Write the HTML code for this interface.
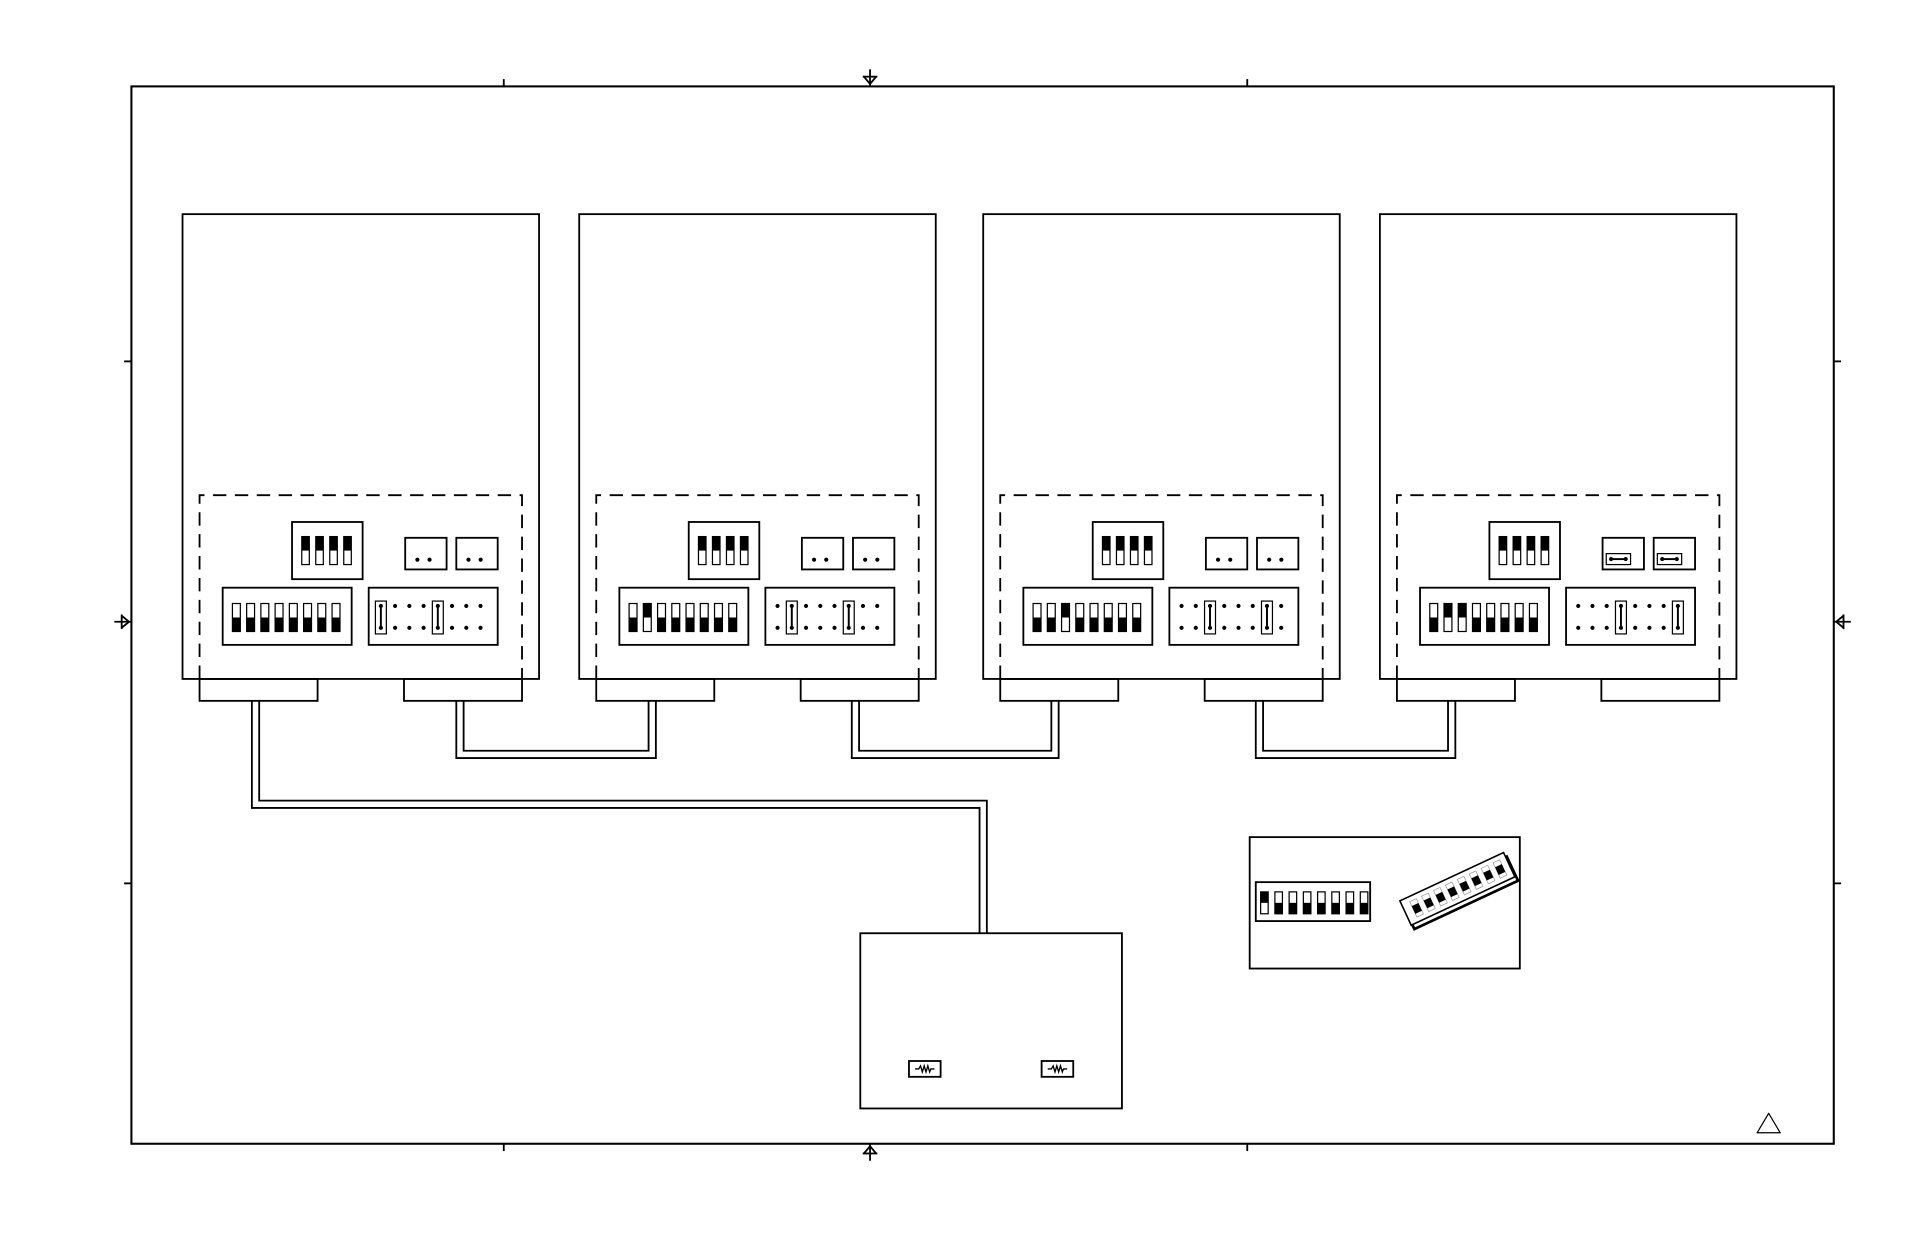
<!DOCTYPE html>
<html><head><meta charset="utf-8"><style>html,body{margin:0;padding:0;background:#fff}svg{display:block}</style></head>
<body>
<svg id="s" xmlns="http://www.w3.org/2000/svg" width="1908" height="1235" viewBox="0 0 1568 1015" preserveAspectRatio="none">
<rect width="1568" height="1015" fill="#fff"/>
<g id="g" fill="none" stroke="#000" stroke-width="1.5"></g>
</svg>
<script>
var g=document.getElementById('g'),h='';
function R(x,y,w,hh,ex){h+='<rect x="'+x+'" y="'+y+'" width="'+w+'" height="'+hh+'" '+(ex||'')+'/>';}
function L(p,ex){h+='<polyline points="'+p+'" '+(ex||'')+'/>';}
function D(x,y){h+='<circle cx="'+x+'" cy="'+y+'" r="1.7" fill="#000" stroke="none"/>';}
R(108,71,1399,869,'stroke-width="1.7"');
[414,1025].forEach(function(x){L(x+',65 '+x+',71');L(x+',940 '+x+',946');});
[297,726].forEach(function(y){L('102,'+y+' 108,'+y);L('1507,'+y+' 1513,'+y);});
L('715,57 715,71');L('709,63 721,63');L('710,63 715,69 720,63');
L('715,940 715,954');L('709,948 721,948');L('710,948 715,942 720,948');
L('94,511 108,511');L('100,505 100,517');L('100,506 106,511 100,516');
L('1507,511 1521,511');L('1515,505 1515,517');L('1515,506 1509,511 1515,516');
function sw(x,y,w,ht,top){var m=y+ht/2;R(x,y,w,ht,'stroke-width="1"');
 if(top)R(x,y,w,ht/2,'fill="#000" stroke="none"');else R(x,m,w,ht/2,'fill="#000" stroke="none"');}
var cards=[150,476,808,1134];
var d8=[[],[1],[2],[1,2]];
cards.forEach(function(cx,i){
 R(cx,176,293,382);
 h+='<path d="M'+(cx+14)+' 558 V407 H'+(cx+279)+' V558" stroke-dasharray="11,7"/>';
 R(cx+14,558,97,18);R(cx+182,558,97,18);
 R(cx+90,429,58,47);
 for(var k=0;k<4;k++)sw(cx+98+k*11.5,441,6.2,23,true);
 R(cx+183,442,34,26);R(cx+225,442,34,26);
 if(i<3){D(cx+193,460);D(cx+203,460);D(cx+235,460);D(cx+245,460);}
 else{[cx+186,cx+228].forEach(function(x){R(x,455,20,9,'stroke-width="1"');D(x+4,459.5);D(x+16,459.5);L((x+4)+',459.5 '+(x+16)+',459.5','stroke-width="1.6"');});}
 R(cx+33,483,106,47);
 for(var k=0;k<8;k++)sw(cx+41+k*11.7,496,6.5,23,d8[i].indexOf(k)>=0);
 R(cx+153,483,106,47);
 for(var k=0;k<8;k++){var x=cx+163+k*11.7;D(x,498);D(x,516);
  if(k==i||k==i+4){R(x-4.5,494,9,27,'stroke-width="1"');L(x+',498 '+x+',516','stroke-width="1.6"');}}
});
function dbl(a,b){L(a);L(b);}
dbl('207,576 207,664 805,664 805,767','213,576 213,658 811,658 811,767');
dbl('375,576 375,623 539,623 539,576','381,576 381,617 533,617 533,576');
dbl('700,576 700,623 870,623 870,576','706,576 706,617 864,617 864,576');
dbl('1032,576 1032,623 1196,623 1196,576','1038,576 1038,617 1190,617 1190,576');
R(707,767,215,144);
[747,856].forEach(function(x){R(x,872,26,13);L((x+5)+',878.5 '+(x+8)+',878.5 '+(x+9.5)+',876 '+(x+11)+',881 '+(x+12.5)+',876 '+(x+14)+',881 '+(x+15.5)+',876 '+(x+17)+',881 '+(x+18)+',878.5 '+(x+21)+',878.5','stroke-width="1.1"');});
R(1027,688,222,108);
R(1032,725,94,32);
for(var k=0;k<8;k++)sw(1036+k*11.7,733,6.2,18,k==0);
h+='<g transform="translate(1199,731) rotate(-25)"><path d="M-47 -9 V14 H47 V-9" stroke-width="2.2"/><rect x="-48" y="-12" width="94" height="22" fill="#fff" stroke-width="1.3"/>';
for(var k=0;k<8;k++){var x=-41+k*10.8;h+='<rect x="'+x+'" y="-8" width="6" height="14" stroke="#999" stroke-width="0.6"/><rect x="'+x+'" y="-4" width="6" height="7" fill="#000" stroke="none"/>';}
h+='</g>';
h+='<path d="M1453.5 915 L1463 931 L1444 931 Z" stroke-width="1" stroke-linejoin="round"/>';
g.innerHTML=h;
</script>
</body></html>
